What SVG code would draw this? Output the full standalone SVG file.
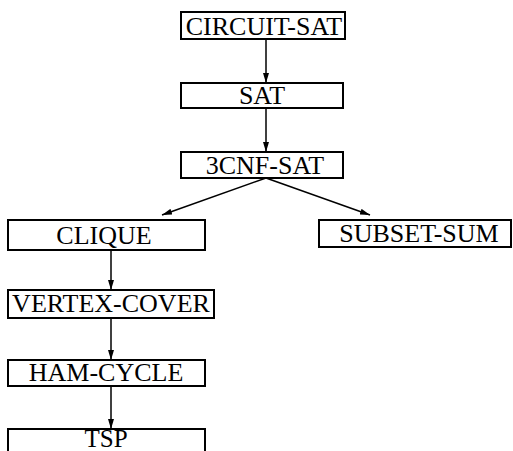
<svg xmlns="http://www.w3.org/2000/svg" width="513" height="451" viewBox="0 0 513 451">
<defs>
<marker id="ah" viewBox="0 0 10 6" refX="10" refY="3" markerWidth="10" markerHeight="6" markerUnits="userSpaceOnUse" orient="auto">
<path d="M0,0 L10,3 L0,6 Z" fill="#000"/>
</marker>
</defs>
<style>
.box{fill:#fff;stroke:#000;stroke-width:2}
.lbl{font-family:"Liberation Serif","Times New Roman",serif;font-size:26px;text-anchor:middle;fill:#000}
.edge{fill:none;stroke:#000;stroke-width:1.5;marker-end:url(#ah)}
</style>
<rect width="513" height="451" fill="#fff"/>
<g id="connectors">
<line class="edge" x1="266" y1="39" x2="266" y2="83"/>
<line class="edge" x1="266" y1="108" x2="266" y2="152"/>
<line class="edge" x1="266" y1="178" x2="162" y2="215"/>
<line class="edge" x1="266" y1="178" x2="370" y2="215"/>
<line class="edge" x1="111" y1="250" x2="111" y2="290"/>
<line class="edge" x1="111" y1="318" x2="111" y2="360"/>
<line class="edge" x1="111" y1="386" x2="111" y2="429"/>
</g>
<g id="circuit-sat"><rect class="box" x="181" y="12" width="164" height="27"/><text class="lbl" x="264" y="35">CIRCUIT-SAT</text></g>
<g id="sat"><rect class="box" x="181" y="83" width="162" height="25"/><text class="lbl" x="262" y="104">SAT</text></g>
<g id="3cnf-sat"><rect class="box" x="181" y="152" width="162" height="26"/><text class="lbl" x="265" y="174">3CNF-SAT</text></g>
<g id="clique"><rect class="box" x="8" y="220" width="197" height="30"/><text class="lbl" x="104" y="244">CLIQUE</text></g>
<g id="subset-sum"><rect class="box" x="319" y="220" width="192" height="27"/><text class="lbl" x="419" y="242">SUBSET-SUM</text></g>
<g id="vertex-cover"><rect class="box" x="8" y="290" width="206" height="28"/><text class="lbl" x="111" y="312">VERTEX-COVER</text></g>
<g id="ham-cycle"><rect class="box" x="8" y="360" width="197" height="26"/><text class="lbl" x="106" y="381">HAM-CYCLE</text></g>
<g id="tsp"><rect class="box" x="8" y="429" width="197" height="30"/><text class="lbl" x="106" y="447" style="font-size:25px">TSP</text></g>
</svg>
